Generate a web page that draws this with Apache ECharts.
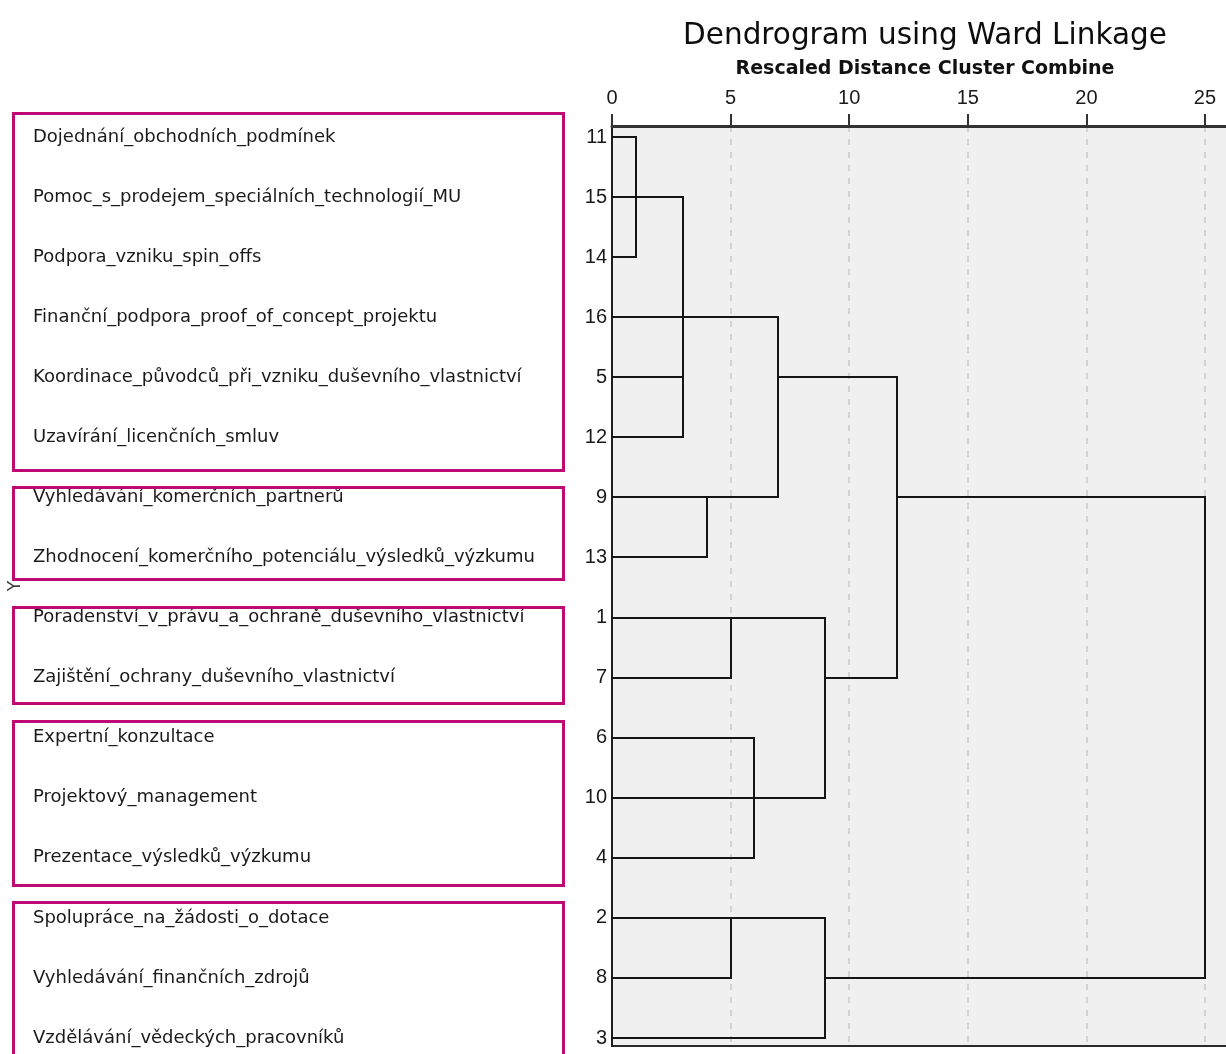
<!DOCTYPE html>
<html><head><meta charset="utf-8">
<script src="https://cdn.jsdelivr.net/npm/echarts@6/dist/echarts.min.js"></script>
<style>html,body{margin:0;padding:0;background:#fff}#c{width:1226px;height:1054px}</style>
</head><body><div id="c"></div>
<script>
// case numbers in dendrogram order (top to bottom)
const rowCases = ['11','15','14','16','5','12','9','13','1','7','6','10','4','2','8','3'];
const rowNames = [
  'Dojednání_obchodních_podmínek',
  'Pomoc_s_prodejem_speciálních_technologií_MU',
  'Podpora_vzniku_spin_offs',
  'Finanční_podpora_proof_of_concept_projektu',
  'Koordinace_původců_při_vzniku_duševního_vlastnictví',
  'Uzavírání_licenčních_smluv',
  'Vyhledávání_komerčních_partnerů',
  'Zhodnocení_komerčního_potenciálu_výsledků_výzkumu',
  'Poradenství_v_právu_a_ochraně_duševního_vlastnictví',
  'Zajištění_ochrany_duševního_vlastnictví',
  'Expertní_konzultace',
  'Projektový_management',
  'Prezentace_výsledků_výzkumu',
  'Spolupráce_na_žádosti_o_dotace',
  'Vyhledávání_finančních_zdrojů',
  'Vzdělávání_vědeckých_pracovníků'
];
const xTicks = [0, 5, 10, 15, 20, 25];
// rescaled distance at which each leaf (row) line ends
const leafJoin = [1, 3, 1, 7, 3, 3, 4, 4, 5, 5, 6, 6, 6, 5, 5, 9];
// merges: [distance, firstRow, lastRow, exitRow, parentDistance] (exitRow -1 = root)
const merges = [
  [1, 0, 2, 1, 3],
  [3, 1, 5, 3, 7],
  [4, 6, 7, 6, 7],
  [7, 3, 6, 4, 12],
  [5, 8, 9, 8, 9],
  [6, 10, 12, 11, 9],
  [9, 8, 11, 9, 12],
  [12, 4, 9, 6, 25],
  [5, 13, 14, 13, 9],
  [9, 13, 15, 14, 25],
  [25, 6, 14, -1, -1]
];
// highlighted groups of rows: [topRow, bottomRow] in row units
const groupBoxes = [[-0.40, 5.54], [5.83, 7.36], [7.82, 9.42], [9.72, 12.45], [12.73, 15.6]];

// build segments [x0, row0, x1, row1]
const segments = [];
leafJoin.forEach((d, r) => segments.push([0, r, d, r]));
merges.forEach(m => {
  segments.push([m[0], m[1], m[0], m[2]]);
  if (m[3] >= 0) segments.push([m[0], m[3], m[4], m[3]]);
});

const yMin = -0.183, yMax = 15.133;
const rowIdx = rowCases.map((_, i) => i);
const chart = echarts.init(document.getElementById('c'), null, {renderer: 'canvas'});
const snap = v => Math.round(v);
chart.setOption({
  animation: false,
  backgroundColor: '#ffffff',
  title: {
    text: 'Dendrogram using Ward Linkage',
    left: 925, top: 21, textAlign: 'center', padding: 0,
    textStyle: {fontFamily: 'DejaVu Sans', fontSize: 29.5, fontWeight: 'normal', color: '#0d0d0d'}
  },
  grid: [
    {left: 612, right: -2, top: 126, bottom: 8, show: true, backgroundColor: '#f0f0f0', borderColor: '#2a2a2a', borderWidth: 2, outerBoundsMode: 'none', containLabel: false},
    {left: 12, width: 553, top: 126, bottom: 8, outerBoundsMode: 'none', containLabel: false}
  ],
  xAxis: [
    {
      type: 'value', gridIndex: 0, position: 'top', min: 0, max: 25.97,
      axisLine: {show: true, onZero: false, lineStyle: {color: '#333', width: 3}},
      axisTick: {show: true, length: 12, customValues: xTicks, lineStyle: {color: '#333', width: 2}},
      axisLabel: {customValues: xTicks, margin: 18, fontSize: 20, fontFamily: 'Liberation Sans', color: '#1a1a1a'},
      splitLine: {show: true, lineStyle: {color: '#d3d3d3', width: 2, type: [6, 7]}},
      name: 'Rescaled Distance Cluster Combine', nameLocation: 'middle', nameGap: 47, nameMoveOverlap: false,
      nameTextStyle: {fontFamily: 'DejaVu Sans', fontWeight: 'bold', fontSize: 19, color: '#111', padding: [0, 0, 0, 10]}
    },
    {type: 'value', gridIndex: 1, min: 0, max: 1, show: false}
  ],
  yAxis: [
    {
      type: 'value', gridIndex: 0, inverse: true, min: yMin, max: yMax,
      axisLine: {show: true, onZero: false, lineStyle: {color: '#1e1e1e', width: 2}},
      axisTick: {show: false}, splitLine: {show: false},
      axisLabel: {customValues: rowIdx, margin: 5, fontSize: 20, fontFamily: 'Liberation Sans', color: '#1a1a1a',
        formatter: v => rowCases[Math.round(v)] || ''}
    },
    {
      type: 'value', gridIndex: 1, inverse: true, min: yMin, max: yMax,
      axisLine: {show: false, onZero: false}, axisTick: {show: false}, splitLine: {show: false},
      axisLabel: {customValues: rowIdx, inside: true, margin: 21, fontSize: 18, fontFamily: 'DejaVu Sans', color: '#1a1a1a',
        padding: [5, 0, 0, 0], formatter: v => rowNames[Math.round(v)] || ''},
      name: 'Y', nameLocation: 'middle', nameRotate: 90, nameGap: -12, nameMoveOverlap: false,
      nameTextStyle: {fontFamily: 'DejaVu Sans', fontSize: 17, color: '#444'}
    }
  ],
  series: [
    {
      type: 'custom', xAxisIndex: 1, yAxisIndex: 1, clip: false, silent: true,
      data: groupBoxes,
      renderItem: (params, api) => {
        const p0 = api.coord([0, api.value(0)]);
        const p1 = api.coord([1, api.value(1)]);
        return {type: 'rect', shape: {x: p0[0] + 1.5, y: snap(p0[1]) + 0.5, width: p1[0] - p0[0] - 3, height: snap(p1[1]) - snap(p0[1])},
          style: {fill: 'none', stroke: '#be0a72', lineWidth: 3}};
      }
    },
    {
      type: 'custom', xAxisIndex: 0, yAxisIndex: 0, clip: false, silent: true,
      data: segments,
      encode: {x: [0, 2], y: [1, 3]},
      renderItem: (params, api) => {
        const a = api.coord([api.value(0), api.value(1)]);
        const b = api.coord([api.value(2), api.value(3)]);
        return {type: 'line', shape: {x1: snap(a[0]), y1: snap(a[1]), x2: snap(b[0]), y2: snap(b[1])},
          style: {stroke: '#151515', lineWidth: 2, lineCap: 'square'}};
      }
    }
  ]
});
</script></body></html>
